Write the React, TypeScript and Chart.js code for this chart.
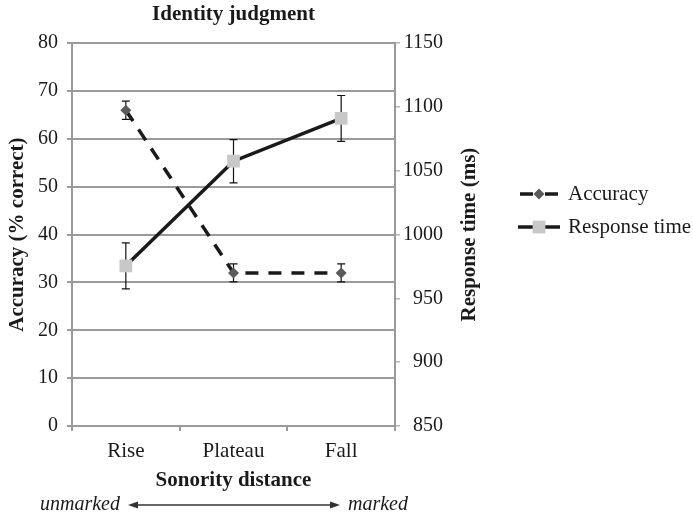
import React, { useEffect, useRef } from 'react';
import { Chart, registerables } from 'chart.js';

Chart.register(...registerables);

const categories = ['Rise', 'Plateau', 'Fall'];
const accuracy = [66, 32, 32];
const accuracyErr = [1.9, 1.9, 1.9];
const responseTime = [975.5, 1057.5, 1091];
const responseTimeErr = [18, 17, 18];
const errors = [accuracyErr, responseTimeErr];

const FONT = '"Liberation Serif", "Times New Roman", serif';
const TEXT = '#1a1a1a';
const GRID = '#9a9a9a';

const errorBarPlugin = {
  id: 'errorBars',
  beforeDatasetsDraw(chart: any) {
    const ctx = chart.ctx;
    const xScale = chart.scales.x;
    chart.data.datasets.forEach((ds: any, i: number) => {
      const yScale = chart.scales[ds.yAxisID];
      const errs = errors[i];
      ctx.save();
      ctx.strokeStyle = '#111';
      ctx.lineWidth = 1.2;
      ds.data.forEach((v: number, j: number) => {
        const x = xScale.getPixelForValue(j);
        const yt = yScale.getPixelForValue(v + errs[j]);
        const yb = yScale.getPixelForValue(v - errs[j]);
        ctx.beginPath();
        ctx.moveTo(x, yt);
        ctx.lineTo(x, yb);
        ctx.moveTo(x - 4, yt);
        ctx.lineTo(x + 4, yt);
        ctx.moveTo(x - 4, yb);
        ctx.lineTo(x + 4, yb);
        ctx.stroke();
      });
      ctx.restore();
    });
  },
};

const extrasPlugin = {
  id: 'extras',
  afterDraw(chart: any) {
    const ctx = chart.ctx;
    const area = chart.chartArea;
    ctx.save();
    // right axis title
    ctx.translate(470, (area.top + area.bottom) / 2);
    ctx.rotate(-Math.PI / 2);
    ctx.font = `bold 21px ${FONT}`;
    ctx.fillStyle = TEXT;
    ctx.textAlign = 'center';
    ctx.textBaseline = 'middle';
    ctx.fillText('Response time (ms)', 0, 0);
    ctx.restore();

    // legend
    const legendY = [194, 227];
    chart.data.datasets.forEach((ds: any, i: number) => {
      const y = legendY[i];
      ctx.save();
      ctx.strokeStyle = ds.borderColor;
      ctx.lineWidth = ds.borderWidth;
      ctx.beginPath();
      if (ds.borderDash && ds.borderDash.length) {
        ctx.moveTo(520, y);
        ctx.lineTo(533, y);
        ctx.moveTo(545, y);
        ctx.lineTo(558, y);
      } else {
        ctx.moveTo(518, y);
        ctx.lineTo(560, y);
      }
      ctx.stroke();
      ctx.fillStyle = ds.pointBackgroundColor;
      ctx.beginPath();
      if (ds.pointStyle === 'rectRot') {
        const r = ds.pointRadius;
        ctx.moveTo(539, y - r);
        ctx.lineTo(539 + r, y);
        ctx.lineTo(539, y + r);
        ctx.lineTo(539 - r, y);
        ctx.closePath();
      } else {
        const s = ds.pointRadius * Math.SQRT1_2;
        ctx.rect(539 - s, y - s, 2 * s, 2 * s);
      }
      ctx.fill();
      ctx.font = `21px ${FONT}`;
      ctx.fillStyle = TEXT;
      ctx.textAlign = 'left';
      ctx.textBaseline = 'middle';
      ctx.fillText(ds.label, 568, y);
      ctx.restore();
    });

    // markedness arrow row
    const ay = 505;
    ctx.save();
    ctx.font = `italic 20px ${FONT}`;
    ctx.fillStyle = TEXT;
    ctx.textBaseline = 'middle';
    ctx.textAlign = 'right';
    ctx.fillText('unmarked', 120, ay);
    ctx.textAlign = 'left';
    ctx.fillText('marked', 348, ay);
    ctx.strokeStyle = '#333';
    ctx.lineWidth = 1.5;
    ctx.beginPath();
    ctx.moveTo(132, ay);
    ctx.lineTo(336, ay);
    ctx.stroke();
    ctx.fillStyle = '#333';
    ctx.beginPath();
    ctx.moveTo(128, ay);
    ctx.lineTo(138, ay - 3.5);
    ctx.lineTo(138, ay + 3.5);
    ctx.closePath();
    ctx.fill();
    ctx.beginPath();
    ctx.moveTo(340, ay);
    ctx.lineTo(330, ay - 3.5);
    ctx.lineTo(330, ay + 3.5);
    ctx.closePath();
    ctx.fill();
    ctx.restore();
  },
};

export default function App() {
  const canvasRef = useRef<HTMLCanvasElement | null>(null);

  useEffect(() => {
    document.body.style.margin = '0';
    const canvas = canvasRef.current;
    if (!canvas) return;
    const chart = new Chart(canvas, {
      type: 'line',
      data: {
        labels: categories,
        datasets: [
          {
            label: 'Accuracy',
            data: accuracy,
            yAxisID: 'y',
            borderColor: '#1a1a1a',
            borderWidth: 3.5,
            borderDash: [13, 10],
            pointStyle: 'rectRot',
            pointRadius: 5.5,
            pointBackgroundColor: '#5b5b5b',
            pointBorderWidth: 0,
            pointBorderColor: '#5b5b5b',
            tension: 0,
          },
          {
            label: 'Response time',
            data: responseTime,
            yAxisID: 'y1',
            borderColor: '#1a1a1a',
            borderWidth: 3.5,
            pointStyle: 'rect',
            pointRadius: 9,
            pointBackgroundColor: '#c8c8c8',
            pointBorderWidth: 0,
            pointBorderColor: '#c8c8c8',
            tension: 0,
          },
        ],
      } as any,
      options: {
        animation: false,
        responsive: false,
        maintainAspectRatio: false,
        layout: { padding: { left: 0, right: 250, top: 0, bottom: 0 } },
        plugins: {
          legend: { display: false },
          tooltip: { enabled: false },
          title: {
            display: true,
            text: 'Identity judgment',
            fullSize: false,
            color: TEXT,
            font: { family: FONT, size: 21, weight: 'bold' },
            padding: { top: 2, bottom: 16 },
          },
        },
        scales: {
          x: {
            offset: true,
            grid: { offset: true, drawOnChartArea: false, tickLength: 5, color: GRID, lineWidth: 2 },
            border: { color: GRID, width: 2 },
            ticks: { font: { family: FONT, size: 21 }, color: TEXT, padding: 8 },
            title: {
              display: true,
              text: 'Sonority distance',
              color: TEXT,
              font: { family: FONT, size: 21, weight: 'bold' },
              padding: { top: 4, bottom: 24 },
            },
            afterFit: (s: any) => { s.height = 91; },
          },
          y: {
            position: 'left',
            min: 0,
            max: 80,
            ticks: { stepSize: 10, font: { family: FONT, size: 20 }, color: TEXT, padding: 9, callback: (v: any) => String(v) },
            grid: { color: GRID, lineWidth: 2, tickLength: 5 },
            border: { color: GRID, width: 2 },
            title: {
              display: true,
              text: 'Accuracy (% correct)',
              color: TEXT,
              font: { family: FONT, size: 21, weight: 'bold' },
              padding: { top: 5, bottom: 0 },
            },
            afterFit: (s: any) => { s.width = 72; },
          },
          y1: {
            position: 'right',
            min: 850,
            max: 1150,
            ticks: { stepSize: 50, font: { family: FONT, size: 20 }, color: TEXT, padding: 3, crossAlign: 'far', callback: (v: any) => String(v) },
            grid: { drawOnChartArea: false, tickLength: 5, color: '#b5b5b5', lineWidth: 1.5 },
            border: { color: GRID, width: 2 },
            afterFit: (s: any) => { s.width = 48; },
          },
        },
      } as any,
      plugins: [errorBarPlugin, extrasPlugin],
    });
    return () => chart.destroy();
  }, []);

  return (
    <div style={{ width: 693, height: 517 }}>
      <canvas ref={canvasRef} width={693} height={517} style={{ display: 'block' }} />
    </div>
  );
}
